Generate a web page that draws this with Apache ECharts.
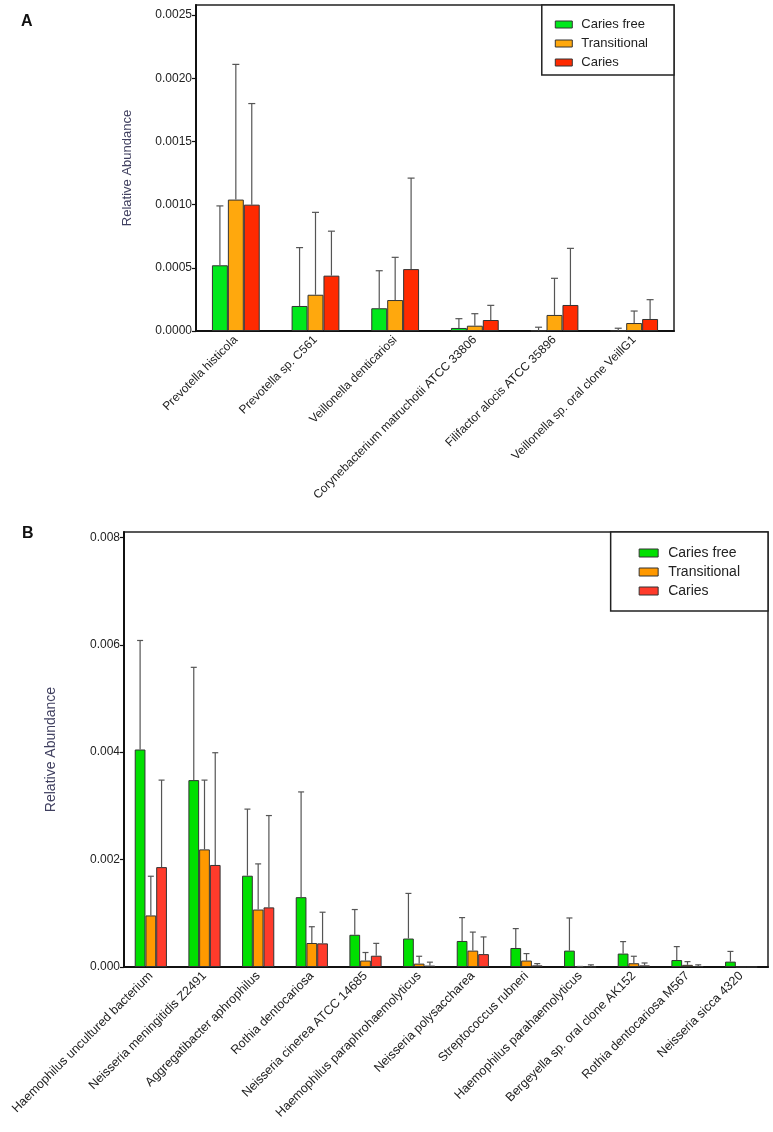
<!DOCTYPE html>
<html><head><meta charset="utf-8">
<script src="https://cdn.jsdelivr.net/npm/echarts@6/dist/echarts.min.js"></script>
<style>html,body{margin:0;padding:0;background:#fff}#c{width:773px;height:1132px}</style>
</head><body><div id="c"></div><script>
const seriesNames = ['Caries free', 'Transitional', 'Caries'];

const catsA = ['Prevotella histicola', 'Prevotella sp. C561', 'Veillonella denticariosi',
  'Corynebacterium matruchotii ATCC 33806', 'Filifactor alocis ATCC 35896', 'Veillonella sp. oral clone VeillG1'];
const freeA = [0.00052, 0.000198, 0.00018, 0.000024, 0.000003, 0.000002];
const freeErrA = [0.00099, 0.00066, 0.000477, 0.0000975, 0.00003, 0.000022];
const transA = [0.00104, 0.000287, 0.000245, 0.000042, 0.000127, 0.000063];
const transErrA = [0.00211, 0.000939, 0.000583, 0.000137, 0.000417, 0.000158];
const cariesA = [0.001, 0.000438, 0.00049, 0.000087, 0.000206, 0.000095];
const cariesErrA = [0.0018, 0.00079, 0.00121, 0.000203, 0.000654, 0.000248];

const catsB = ['Haemophilus uncultured bacterium', 'Neisseria meningitidis Z2491', 'Aggregatibacter aphrophilus',
  'Rothia dentocariosa', 'Neisseria cinerea ATCC 14685', 'Haemophilus paraphrohaemolyticus',
  'Neisseria polysaccharea', 'Streptococcus rubneri', 'Haemophilus parahaemolyticus',
  'Bergeyella sp. oral clone AK152', 'Rothia dentocariosa M567', 'Neisseria sicca 4320'];
const freeB = [0.00405, 0.00348, 0.0017, 0.0013, 0.0006, 0.00053, 0.000485, 0.000354, 0.000305, 0.00025, 0.00013, 0.0001];
const freeErrB = [0.00608, 0.00558, 0.00294, 0.00326, 0.00107, 0.00137, 0.00092, 0.000715, 0.000913, 0.000473, 0.00038, 0.00029];
const transB = [0.00096, 0.00219, 0.00107, 0.000447, 0.00012, 0.000063, 0.000305, 0.00012, 0.000003, 0.00007, 0.00004, 0];
const transErrB = [0.00169, 0.00348, 0.00192, 0.00075, 0.00027, 0.0002, 0.00065, 0.00025, 0.00001, 0.0002, 0.0001, 0];
const cariesB = [0.00186, 0.0019, 0.00111, 0.00044, 0.00021, 0.000026, 0.00024, 0.00003, 0.000005, 0.00003, 0.000015, 0];
const cariesErrB = [0.00348, 0.00399, 0.00282, 0.00102, 0.00044, 0.00009, 0.00056, 0.000063, 0.00004, 0.000075, 0.00004, 0];

const colorsA = ['#00e81c', '#ffa80d', '#ff2a00'];
const colorsB = ['#00e000', '#ff9900', '#ff3b2b'];

const FONT = 'Liberation Sans, Arial, sans-serif';

function errItem(idx, capHalf) {
  return function (params, api) {
    const x = api.value(0), m = api.value(1), u = api.value(2);
    if (!(u > m)) return { type: 'group', children: [] };
    const band = api.size([1, 0])[0];
    const bw = band * 0.6 / 3;
    const p0 = api.coord([x, m]);
    const p1 = api.coord([x, u]);
    const cx = p0[0] + (idx - 1) * bw;
    const st = { stroke: '#555', lineWidth: 1.2 };
    return {
      type: 'group', children: [
        { type: 'line', shape: { x1: cx, y1: p0[1], x2: cx, y2: p1[1] }, style: st },
        { type: 'line', shape: { x1: cx - capHalf, y1: p1[1], x2: cx + capHalf, y2: p1[1] }, style: st }
      ]
    };
  };
}

function buildSeries(means, errs, colors, axisIdx, capHalf) {
  const out = [];
  means.forEach((arr, i) => {
    out.push({
      type: 'bar', name: seriesNames[i], xAxisIndex: axisIdx, yAxisIndex: axisIdx,
      data: arr, barGap: '0%', barCategoryGap: '40%',
      itemStyle: { color: colors[i], borderColor: '#333', borderWidth: 1 },
      z: 2
    });
  });
  means.forEach((arr, i) => {
    out.push({
      type: 'custom', name: seriesNames[i] + ' err', xAxisIndex: axisIdx, yAxisIndex: axisIdx,
      data: arr.map((v, k) => [k, v, errs[i][k]]),
      renderItem: errItem(i, capHalf), encode: { x: 0, y: [1, 2] }, z: 3, silent: true
    });
  });
  return out;
}

const chart = echarts.init(document.getElementById('c'), null, { renderer: 'canvas' });

const yCommon = (name, nameGap, nameSize, digits) => ({
  type: 'value', min: 0, name: name, nameLocation: 'middle', nameGap: nameGap,
  nameTextStyle: { fontFamily: FONT, fontSize: nameSize, color: '#404060' },
  splitLine: { show: false },
  axisLine: { show: true, lineStyle: { color: '#111', width: 2 } },
  axisTick: { show: true, length: 4, lineStyle: { color: '#111', width: 1.2 } },
  axisLabel: { fontFamily: FONT, fontSize: 12, color: '#222', margin: 4, showMaxLabel: false,
    formatter: v => v.toFixed(digits) }
});

const xCommon = (cats, size) => ({
  type: 'category', data: cats,
  axisLine: { lineStyle: { color: '#111', width: 2 } },
  axisTick: { alignWithLabel: true, length: 4, lineStyle: { color: '#111', width: 1.2 } },
  axisLabel: { interval: 0, rotate: 45, fontFamily: FONT, fontSize: size, color: '#222', margin: 7 }
});

const option = {
  animation: false,
  backgroundColor: '#fff',
  title: [
    { text: 'A', left: 16, top: 9, textStyle: { fontFamily: FONT, fontSize: 16, fontWeight: 'bold', color: '#111' } },
    { text: 'B', left: 17, top: 521, textStyle: { fontFamily: FONT, fontSize: 16, fontWeight: 'bold', color: '#111' } }
  ],
  grid: [
    { left: 196, top: 5, right: 99, bottom: 801, show: true, borderColor: '#222', borderWidth: 1.5, backgroundColor: 'transparent' },
    { left: 124, top: 532, right: 5, bottom: 165, show: true, borderColor: '#222', borderWidth: 1.5, backgroundColor: 'transparent' }
  ],
  legend: [
    {
      orient: 'vertical', right: 99, top: 5, itemWidth: 17, itemHeight: 7, itemGap: 6,
      padding: [13, 26, 6, 13], borderColor: '#222', borderWidth: 1.5, backgroundColor: '#fff',
      textStyle: { fontFamily: FONT, fontSize: 13, color: '#222', padding: [0, 0, 0, 4] },
      data: seriesNames.map((n, i) => ({ name: n, icon: 'rect', itemStyle: { color: colorsA[i], borderColor: '#333', borderWidth: 1 } }))
    },
    {
      orient: 'vertical', right: 5, top: 532, itemWidth: 19, itemHeight: 8, itemGap: 5,
      padding: [14, 28, 13, 28], borderColor: '#222', borderWidth: 1.5, backgroundColor: '#fff',
      textStyle: { fontFamily: FONT, fontSize: 14, color: '#222', padding: [0, 0, 0, 5] },
      data: seriesNames.map((n, i) => ({ name: n, icon: 'rect', itemStyle: { color: colorsB[i], borderColor: '#333', borderWidth: 1 } }))
    }
  ],
  xAxis: [xCommon(catsA, 12), Object.assign(xCommon(catsB, 12.5), { gridIndex: 1 })],
  yAxis: [
    Object.assign(yCommon('Relative Abundance', 62, 13, 4), { max: 0.00258, interval: 0.0005 }),
    Object.assign(yCommon('Relative Abundance', 66, 14, 3), { gridIndex: 1, max: 0.0081, interval: 0.002 })
  ],
  series: [].concat(
    buildSeries([freeA, transA, cariesA], [freeErrA, transErrA, cariesErrA], colorsA, 0, 3.5),
    buildSeries([freeB, transB, cariesB], [freeErrB, transErrB, cariesErrB], colorsB, 1, 3)
  )
};
chart.setOption(option);
</script></body></html>
